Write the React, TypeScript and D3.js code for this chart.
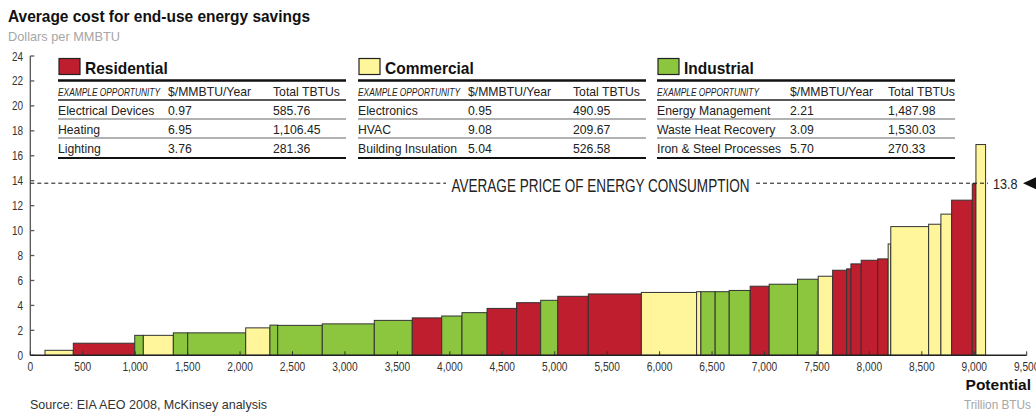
import React from "react";
import * as d3 from "d3";

// Energy-efficiency opportunities, sorted by cost. Each bar: sector, potential (TBTU), cost ($/MMBTU)
const sectors = ["Residential", "Commercial", "Industrial"];
const sectorColors = ["#BE1E2D", "#FFF59B", "#8CC63F"];

const leadingPotential = 140;
const barSectors = [
  "Commercial", "Residential", "Industrial", "Commercial", "Industrial", "Industrial", "Commercial",
  "Industrial", "Industrial", "Industrial", "Industrial", "Residential", "Industrial", "Industrial",
  "Residential", "Residential", "Industrial", "Residential", "Residential", "Commercial", "Commercial",
  "Industrial", "Industrial", "Industrial", "Residential", "Industrial", "Industrial", "Commercial",
  "Residential", "Residential", "Residential", "Residential", "Residential", "Commercial", "Commercial",
  "Commercial", "Commercial", "Residential", "Residential", "Commercial",
];
const barPotentials = [
  270, 585.76, 82, 286, 137, 553, 231,
  74, 425, 496, 362, 281, 193, 239,
  281.36, 230, 163, 291, 506, 526.58, 41,
  136, 134, 200, 181, 270.33, 197, 138,
  133, 41, 98, 157, 100, 25, 361,
  117, 102, 197, 35, 92,
];
const barCosts = [
  0.4, 0.97, 1.6, 1.6, 1.8, 1.8, 2.2,
  2.42, 2.4, 2.52, 2.8, 3.0, 3.15, 3.42,
  3.76, 4.22, 4.41, 4.73, 4.92, 5.04, 5.1,
  5.1, 5.1, 5.2, 5.54, 5.7, 6.1, 6.34,
  6.82, 6.93, 7.33, 7.62, 7.73, 8.93, 10.32,
  10.51, 11.32, 12.44, 13.75, 16.9,
];

const averagePrice = 13.8;
const xTicks = d3.range(0, 9501, 500);
const yTicks = d3.range(0, 25, 2);

// Legend tables
const tableHeaders = ["EXAMPLE OPPORTUNITY", "$/MMBTU/Year", "Total TBTUs"];
const residentialRows = [
  ["Electrical Devices", "0.97", "585.76"],
  ["Heating", "6.95", "1,106.45"],
  ["Lighting", "3.76", "281.36"],
];
const commercialRows = [
  ["Electronics", "0.95", "490.95"],
  ["HVAC", "9.08", "209.67"],
  ["Building Insulation", "5.04", "526.58"],
];
const industrialRows = [
  ["Energy Management", "2.21", "1,487.98"],
  ["Waste Heat Recovery", "3.09", "1,530.03"],
  ["Iron & Steel Processes", "5.70", "270.33"],
];

const FONT = "'Liberation Sans', Arial, sans-serif";
const W = 1036;
const H = 413;

const x = d3.scaleLinear().domain([0, 9500]).range([30.3, 1026.7]);
const y = d3.scaleLinear().domain([0, 24]).range([355.3, 56]);
const color = d3.scaleOrdinal<string, string>().domain(sectors).range(sectorColors);
const fmt = d3.format(",");

type Bar = { sector: string; x0: number; x1: number; cost: number };
const cum = d3.cumsum(barPotentials);
const bars: Bar[] = barPotentials.map((p, i) => ({
  sector: barSectors[i],
  x0: leadingPotential + cum[i] - p,
  x1: leadingPotential + cum[i],
  cost: barCosts[i],
}));

// Text narrowed horizontally to mimic a condensed face
function CT({ x, y, sx = 0.9, children, ...rest }: any) {
  return (
    <text transform={`translate(${x},${y}) scale(${sx},1)`} {...rest}>
      {children}
    </text>
  );
}

function Legend({ left, right, cols, title, rows }: { left: number; right: number; cols: number[]; title: string; rows: string[][] }) {
  const rowY = [115, 134, 153];
  const sx = 0.94;
  return (
    <g fill="#222">
      <rect x={left + 1} y={58.5} width={21} height={16} fill={color(title)} stroke="#222" strokeWidth={1.2} />
      <CT x={left + 27} y={73.5} sx={0.97} fontSize={16} fontWeight="bold" fill="#111">{title}</CT>
      <line x1={left} x2={right} y1={80.5} y2={80.5} stroke="#111" strokeWidth={2.5} />
      <text x={left} y={96} fontSize={10} fontStyle="italic" textLength={102} lengthAdjust="spacingAndGlyphs">{tableHeaders[0]}</text>
      <CT x={cols[0]} y={96} sx={sx} fontSize={13}>{tableHeaders[1]}</CT>
      <CT x={cols[1]} y={96} sx={sx} fontSize={13}>{tableHeaders[2]}</CT>
      <line x1={left} x2={right} y1={100} y2={100} stroke="#222" strokeWidth={1.5} />
      {rows.map((r, i) => (
        <g key={i}>
          <CT x={left} y={rowY[i]} sx={sx} fontSize={13}>{r[0]}</CT>
          <CT x={cols[0]} y={rowY[i]} sx={sx} fontSize={13}>{r[1]}</CT>
          <CT x={cols[1]} y={rowY[i]} sx={sx} fontSize={13}>{r[2]}</CT>
        </g>
      ))}
      <line x1={left} x2={right} y1={119} y2={119} stroke="#999" strokeWidth={1.5} />
      <line x1={left} x2={right} y1={138} y2={138} stroke="#999" strokeWidth={1.5} />
      <line x1={left} x2={right} y1={158} y2={158} stroke="#111" strokeWidth={2} />
    </g>
  );
}

export default function App() {
  const yAvg = y(averagePrice);
  return (
    <svg width={W} height={H} style={{ position: "absolute", left: 0, top: 0, background: "#fff" }} fontFamily={FONT}>
      <text x={8} y={22} fontSize={16} fontWeight="bold" fill="#111" textLength={302} lengthAdjust="spacingAndGlyphs">
        Average cost for end-use energy savings
      </text>
      <text x={8} y={41} fontSize={13.5} fill="#a6a6a6" textLength={112} lengthAdjust="spacingAndGlyphs">Dollars per MMBTU</text>

      {/* bars */}
      {bars.map((b, i) => (
        <rect key={i} x={x(b.x0)} y={y(b.cost)} width={x(b.x1) - x(b.x0)} height={y(0) - y(b.cost)}
          fill={color(b.sector)} stroke="#333" strokeWidth={1} />
      ))}

      {/* y axis */}
      <line x1={x(0)} x2={x(0)} y1={y(0)} y2={y(24)} stroke="#555" strokeWidth={1.3} />
      {yTicks.map((t) => (
        <g key={t}>
          <line x1={x(0)} x2={x(0) + 4} y1={y(t)} y2={y(t)} stroke="#555" strokeWidth={1.3} />
          <CT x={23} y={y(t) + 4.5} sx={0.8} textAnchor="end" fontSize={12.5} fill="#333">{t}</CT>
        </g>
      ))}

      {/* x axis */}
      <line x1={x(0)} x2={x(9500)} y1={y(0)} y2={y(0)} stroke="#222" strokeWidth={1.5} />
      {xTicks.map((t) => (
        <g key={t}>
          <line x1={x(t)} x2={x(t)} y1={y(0)} y2={y(0) - 4} stroke="#333" strokeWidth={1} />
          <CT x={x(t)} y={371} sx={0.85} textAnchor="middle" fontSize={12} fill="#333">{fmt(t)}</CT>
        </g>
      ))}
      <CT x={1031} y={390} sx={1} textAnchor="end" fontSize={15.5} fontWeight="bold" fill="#111">Potential</CT>
      <CT x={1031} y={409} sx={0.875} textAnchor="end" fontSize={13.5} fill="#a6a6a6">Trillion BTUs</CT>
      <text x={30} y={408.5} fontSize={13.5} fill="#333" textLength={237} lengthAdjust="spacingAndGlyphs">
        Source: EIA AEO 2008, McKinsey analysis
      </text>

      {/* average price reference line */}
      <line x1={x(0)} x2={446} y1={yAvg} y2={yAvg} stroke="#111" strokeWidth={1} strokeDasharray="4,3" />
      <line x1={756} x2={988} y1={yAvg} y2={yAvg} stroke="#111" strokeWidth={1} strokeDasharray="4,3" />
      <text x={451.5} y={yAvg + 8.5} fontSize={18.5} fill="#222" textLength={298} lengthAdjust="spacingAndGlyphs">
        AVERAGE PRICE OF ENERGY CONSUMPTION
      </text>
      <CT x={993} y={yAvg + 5.5} sx={0.9} fontSize={14} fill="#222">{averagePrice}</CT>
      <path d={`M1023,${yAvg} L1036,${yAvg - 6} L1036,${yAvg + 6} Z`} fill="#111" />

      {/* legend tables */}
      <Legend left={58} right={346} cols={[168, 273]} title="Residential" rows={residentialRows} />
      <Legend left={358} right={646} cols={[468, 573]} title="Commercial" rows={commercialRows} />
      <Legend left={657} right={955} cols={[790, 888]} title="Industrial" rows={industrialRows} />
    </svg>
  );
}
